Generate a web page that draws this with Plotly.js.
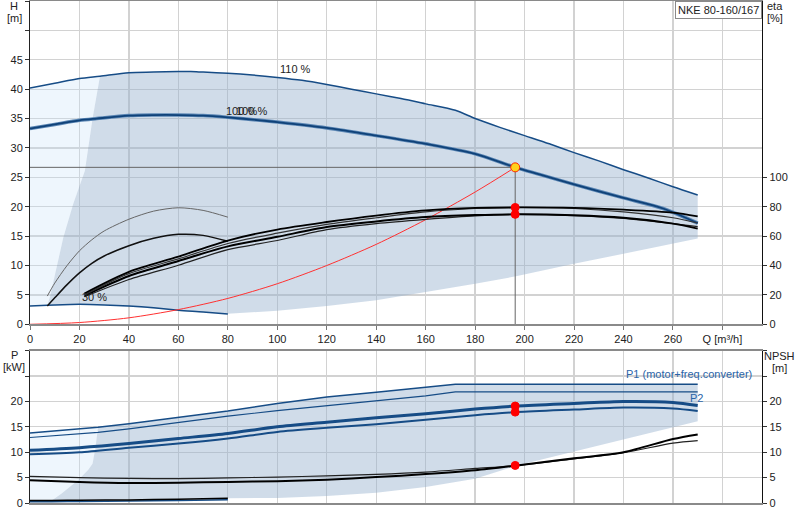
<!DOCTYPE html>
<html>
<head>
<meta charset="utf-8">
<script src="https://cdn.plot.ly/plotly-3.0.1.min.js"></script>
<style>
  html, body { margin: 0; padding: 0; background: #fff; }
  #plot { width: 800px; height: 520px; }
</style>
</head>
<body>
<div id="plot"></div>
<script>
// flow axis
const qTicks = [0, 20, 40, 60, 80, 100, 120, 140, 160, 180, 200, 220, 240, 260, 280];
const qTickText = ['0', '20', '40', '60', '80', '100', '120', '140', '160', '180', '200', '220', '240', '260', 'Q [m³/h]'];
const hTicks = [0, 5, 10, 15, 20, 25, 30, 35, 40, 45, 50, 55];
const hTickText = ['0', '5', '10', '15', '20', '25', '30', '35', '40', '45', '', ''];
const etaTicks = [0, 20, 40, 60, 80, 100];
const pTicks = [0, 5, 10, 15, 20, 25, 30];
const pTickText = ['0', '5', '10', '15', '20', '', ''];

// head curves (top panel)
const q110 = [0, 10, 20, 28.3, 40, 50, 60, 65, 70, 80, 90, 100, 110, 120, 130, 140, 150, 160, 172, 180, 190, 200, 210, 220, 230, 240, 250, 260, 270];
const h110 = [40.2, 41.0, 41.8, 42.2, 42.8, 42.9, 43.0, 43.0, 42.9, 42.7, 42.4, 42.0, 41.5, 40.8, 40.0, 39.2, 38.4, 37.5, 36.4, 35.0, 33.5, 32.1, 30.7, 29.2, 27.8, 26.3, 24.9, 23.4, 22.0];
const q100 = [0, 10, 20, 27, 40, 50, 60, 70, 80, 93, 100, 120, 140, 160, 180, 196.2, 206, 220, 240, 256, 270];
const h100 = [33.3, 34.0, 34.7, 35.0, 35.5, 35.6, 35.6, 35.5, 35.2, 34.7, 34.4, 33.4, 32.1, 30.7, 29.0, 26.7, 25.5, 23.8, 21.5, 19.7, 17.2];
const qMin = [0, 7, 10, 20, 30, 40, 50, 60, 70, 80];
const hMin = [3.1, 3.25, 3.3, 3.4, 3.3, 3.1, 2.8, 2.4, 2.1, 1.75];
const qLowEdge = [80, 100, 120, 140, 160, 180, 197, 220, 240, 260, 270];
const hLowEdge = [1.8, 2.3, 3.1, 4.1, 5.5, 6.9, 8.2, 10.3, 12.0, 13.7, 14.6];
const qLightEdge = [7, 8.1, 10.5, 13.5, 17.5, 22.2, 25.3, 28.3];
const hLightEdge = [3.25, 4.7, 9.2, 14.8, 20.5, 26.1, 35.0, 42.2];
const qSys = [0, 20, 40, 60, 80, 100, 120, 140, 160, 180, 196.2];
const hSys = [0, 0.3, 1.1, 2.5, 4.4, 6.9, 10.0, 13.6, 17.8, 22.5, 26.7];

// efficiency curves (top panel, right axis)
const qEta = [22, 40, 60, 80, 100, 120, 140, 160, 180, 197, 220, 240, 260, 270];
const etaA = [21.0, 35.7, 46.0, 57.0, 64.5, 69.6, 74.0, 77.5, 79.2, 79.5, 79.2, 78.0, 76.0, 73.4];
const etaB = [20.0, 34.5, 44.5, 55.0, 62.0, 68.0, 72.5, 76.5, 78.8, 79.5, 78.8, 76.5, 72.5, 68.9];
const etaC = [19.5, 32.9, 43.1, 53.0, 59.5, 66.2, 70.0, 73.0, 74.3, 74.8, 74.2, 72.5, 68.5, 65.1];
const etaD = [18.7, 30.5, 40.2, 50.8, 57.0, 64.4, 68.5, 71.4, 73.8, 74.8, 74.0, 72.0, 68.5, 66.5];
const qEtaLow = [7, 10, 15, 20, 25, 30, 40, 50, 60, 70, 80];
const etaLow1 = [19.2, 28.0, 40.0, 50.0, 57.5, 63.5, 71.5, 77.0, 79.3, 77.5, 72.9];
const etaLow2 = [12.4, 18.0, 27.0, 35.0, 41.5, 46.5, 53.5, 58.5, 61.2, 60.5, 56.5];

// power curves (bottom panel)
const qPmax = [0, 20, 27.5, 40, 60, 80, 100, 120, 140, 160, 172, 200, 240, 270];
const p1Max = [13.8, 14.5, 14.9, 15.6, 16.8, 18.1, 19.6, 20.9, 21.8, 22.8, 23.4, 23.4, 23.4, 23.4];
const p2Max = [12.9, 13.6, 13.9, 14.6, 15.9, 17.1, 18.2, 19.2, 20.2, 21.1, 21.9, 21.9, 21.9, 21.9];
const qPnom = [0, 20, 40, 60, 80, 100, 120, 140, 160, 180, 197, 220, 240, 260, 270];
const p1Nom = [10.4, 10.9, 11.7, 12.7, 13.7, 15.0, 15.9, 16.8, 17.6, 18.5, 19.1, 19.6, 20.0, 19.8, 19.2];
const p2Nom = [9.6, 10.0, 10.9, 11.7, 12.7, 14.0, 14.8, 15.5, 16.4, 17.3, 17.9, 18.4, 18.8, 18.6, 18.1];
const qPmin = [0, 8.8, 20, 40, 60, 80];
const pMin1 = [0.5, 0.5, 0.55, 0.6, 0.75, 0.95];
const pMin2 = [0.25, 0.27, 0.3, 0.4, 0.5, 0.65];
const qPlowEdge = [80, 100, 120, 140, 160, 180, 197, 220, 240, 260, 270];
const pLowEdge = [0.95, 1.0, 1.4, 2.0, 3.15, 4.8, 7.4, 10.2, 12.6, 14.9, 16.1];
const qPlightEdge = [8.8, 12.8, 19.4, 23.5, 25.3, 26.5, 27.5];
const pLightEdge = [0.5, 1.85, 4.5, 6.5, 7.75, 11.0, 14.9];

// NPSH curves
const qNpsh = [0, 20, 40, 60, 80, 100, 120, 140, 160, 180, 197, 220, 240, 260, 270];
const npshA = [5.25, 5.0, 4.85, 4.8, 4.95, 5.1, 5.35, 5.65, 6.1, 6.8, 7.4, 8.7, 9.9, 11.8, 12.3];
const npshB = [4.5, 4.15, 3.95, 4.0, 4.15, 4.3, 4.6, 5.1, 5.7, 6.45, 7.4, 8.8, 10.0, 12.6, 13.5];

// duty point
const qDuty = 196.2;
const hDuty = 26.7;
const etaDuty = [79.5, 74.8];
const pDuty = [19.1, 17.9];
const npshDuty = 7.4;

const BLUE = '#164c86';
const FONT = 'Liberation Sans, Arial, sans-serif';
const darkFill = 'rgba(150,178,206,0.45)';
const lightFill = 'rgba(200,225,250,0.3)';

function rev(a) { return a.slice().reverse(); }

// top panel shaded areas
let darkQ = [], darkH = [];
qLightEdge.forEach((q, i) => { darkQ.push(q); darkH.push(hLightEdge[i]); });
q110.forEach((q, i) => { if (q > 28.3) { darkQ.push(q); darkH.push(h110[i]); } });
rev(qLowEdge).forEach((q, i) => { darkQ.push(q); darkH.push(rev(hLowEdge)[i]); });
rev(qMin).forEach((q, i) => { if (q > 7 && q < 80) { darkQ.push(q); darkH.push(rev(hMin)[i]); } });
darkQ.push(qLightEdge[0]); darkH.push(hLightEdge[0]);

let lightQ = [], lightH = [];
qMin.forEach((q, i) => { if (q <= 7) { lightQ.push(q); lightH.push(hMin[i]); } });
qLightEdge.forEach((q, i) => { lightQ.push(q); lightH.push(hLightEdge[i]); });
rev(q110).forEach((q, i) => { if (q < 28.3) { lightQ.push(q); lightH.push(rev(h110)[i]); } });
lightQ.push(qMin[0]); lightH.push(hMin[0]);

// bottom panel shaded areas
let pdQ = [], pdP = [];
qPlightEdge.forEach((q, i) => { pdQ.push(q); pdP.push(pLightEdge[i]); });
qPmax.forEach((q, i) => { if (q > 27.5) { pdQ.push(q); pdP.push(p1Max[i]); } });
rev(qPlowEdge).forEach((q, i) => { pdQ.push(q); pdP.push(rev(pLowEdge)[i]); });
rev(qPmin).forEach((q, i) => { if (q > 8.8 && q < 80) { pdQ.push(q); pdP.push(rev(pMin1)[i]); } });
pdQ.push(qPlightEdge[0]); pdP.push(pLightEdge[0]);

let plQ = [], plP = [];
qPmin.forEach((q, i) => { if (q <= 8.8) { plQ.push(q); plP.push(pMin1[i]); } });
qPlightEdge.forEach((q, i) => { plQ.push(q); plP.push(pLightEdge[i]); });
rev(qPmax).forEach((q, i) => { if (q < 27.5) { plQ.push(q); plP.push(rev(p1Max)[i]); } });
plQ.push(qPmin[0]); plP.push(pMin1[0]);

function line(x, y, color, width, xa, ya, straight) {
    return { x: x, y: y, xaxis: xa || 'x', yaxis: ya || 'y', type: 'scatter', mode: 'lines',
             line: { color: color, width: width, shape: straight ? 'linear' : 'spline', smoothing: 0.8 },
             hoverinfo: 'skip' };
}
function area(x, y, color, xa, ya) {
    return { x: x, y: y, xaxis: xa || 'x', yaxis: ya || 'y', type: 'scatter', mode: 'lines',
             fill: 'toself', fillcolor: color, line: { width: 0 }, hoverinfo: 'skip' };
}
function dots(x, y, xa, ya, color, size, outline) {
    return { x: x, y: y, xaxis: xa, yaxis: ya, type: 'scatter', mode: 'markers',
             marker: { color: color, size: size, line: { color: outline || color, width: 1 } }, hoverinfo: 'skip' };
}

let data = [
    area(lightQ, lightH, lightFill),
    area(darkQ, darkH, darkFill),
    area(plQ, plP, lightFill, 'x2', 'y3'),
    area(pdQ, pdP, darkFill, 'x2', 'y3'),

    // head
    line(q110, h110, BLUE, 1.5),
    line(q100, h100, '#5b86b4', 3.5),
    line(q100, h100, '#0f4279', 1.8),
    line(qMin, hMin, BLUE, 1.5),
    line(qSys, hSys, '#ff3030', 1),
    line([0, qDuty], [hDuty, hDuty], '#666666', 1, 'x', 'y', true),
    line([qDuty, qDuty], [hDuty, 0], '#666666', 1, 'x', 'y', true),

    // efficiency
    line(qEtaLow, etaLow1, '#666666', 1, 'x', 'y2'),
    line(qEtaLow, etaLow2, '#111111', 1.5, 'x', 'y2'),
    line(qEta, etaD, '#222222', 1.2, 'x', 'y2'),
    line(qEta, etaC, '#000000', 2, 'x', 'y2'),
    line(qEta, etaB, '#333333', 1.2, 'x', 'y2'),
    line(qEta, etaA, '#000000', 1.8, 'x', 'y2'),

    // power
    line(qPmax, p1Max, BLUE, 1.5, 'x2', 'y3', true),
    line(qPmax, p2Max, BLUE, 1.2, 'x2', 'y3', true),
    line(qPnom, p1Nom, BLUE, 3, 'x2', 'y3'),
    line(qPnom, p2Nom, BLUE, 2, 'x2', 'y3'),
    line(qPmin, pMin2, BLUE, 1.5, 'x2', 'y3'),
    line(qPmin, pMin1, '#000000', 1.5, 'x2', 'y3'),

    // NPSH
    line(qNpsh, npshA, '#222222', 1.2, 'x2', 'y4'),
    line(qNpsh, npshB, '#000000', 2, 'x2', 'y4'),

    // duty point markers
    dots([qDuty, qDuty], etaDuty, 'x', 'y2', '#ff0000', 8),
    dots([qDuty], [hDuty], 'x', 'y', '#ffd21a', 9, '#ff2a00'),
    dots([qDuty, qDuty], pDuty, 'x2', 'y3', '#ff0000', 8),
    dots([qDuty], [npshDuty], 'x2', 'y4', '#ff0000', 8),
];

const tickFont = { family: FONT, size: 11, color: '#222' };
const gridColor = '#d2d2d2';

function textNote(x, y, text, opts) {
    return Object.assign({ x: x, y: y, xref: 'paper', yref: 'paper', text: text, showarrow: false,
        font: { family: FONT, size: 11, color: '#222' }, xanchor: 'center', yanchor: 'middle' }, opts || {});
}
// pixel helpers for the labels outside the plotting area
const px = v => (v - 30) / 732;
const py = v => (503 - v) / 502;

let layout = {
    width: 800,
    height: 520,
    margin: { l: 30, r: 38, t: 1, b: 17 },
    paper_bgcolor: '#fff',
    plot_bgcolor: '#fff',
    showlegend: false,
    xaxis: {
        domain: [0, 1], anchor: 'y', range: [0, 296],
        tickvals: qTicks, ticktext: qTickText, tickfont: tickFont,
        ticks: 'outside', ticklen: 4, tickcolor: '#777',
        showgrid: true, gridcolor: gridColor, gridwidth: 1.3, zeroline: false,
        showline: true, linecolor: '#8a8a8a', linewidth: 2, mirror: true,
    },
    yaxis: {
        domain: [0.356, 1], anchor: 'x', range: [0, 55],
        tickvals: hTicks, ticktext: hTickText, tickfont: tickFont,
        ticks: 'outside', ticklen: 4, tickcolor: '#333',
        showgrid: true, gridcolor: gridColor, gridwidth: 1.3, zeroline: false,
        showline: true, linecolor: '#222', linewidth: 1,
    },
    yaxis2: {
        overlaying: 'y', anchor: 'x', side: 'right', range: [0, 220],
        tickvals: etaTicks, tickfont: tickFont,
        ticks: 'outside', ticklen: 4, tickcolor: '#333',
        showgrid: false, zeroline: false,
        showline: true, linecolor: '#111', linewidth: 1.2,
    },
    xaxis2: {
        domain: [0, 1], anchor: 'y3', range: [0, 296],
        tickvals: qTicks, showticklabels: false, ticks: '',
        showgrid: true, gridcolor: gridColor, gridwidth: 1.3, zeroline: false,
        showline: true, linecolor: '#8a8a8a', linewidth: 1.5, mirror: true,
    },
    yaxis3: {
        domain: [0, 0.3034], anchor: 'x2', range: [0, 30],
        tickvals: pTicks, ticktext: pTickText, tickfont: tickFont,
        ticks: 'outside', ticklen: 4, tickcolor: '#333',
        showgrid: true, gridcolor: gridColor, gridwidth: 1.3, zeroline: false,
        showline: true, linecolor: '#222', linewidth: 1,
    },
    yaxis4: {
        overlaying: 'y3', anchor: 'x2', side: 'right', range: [0, 30],
        tickvals: pTicks, ticktext: pTickText, tickfont: tickFont,
        ticks: 'outside', ticklen: 4, tickcolor: '#333',
        showgrid: false, zeroline: false,
        showline: true, linecolor: '#111', linewidth: 1.2,
    },
    annotations: [
        textNote(px(14), py(6), 'H'),
        textNote(px(14), py(18), '[m]'),
        textNote(px(775), py(6), 'eta'),
        textNote(px(775), py(18), '[%]'),
        textNote(px(14), py(355), 'P'),
        textNote(px(14), py(367), '[kW]'),
        textNote(px(780), py(356), 'NPSH'),
        textNote(px(780), py(368), '[m]'),
        textNote(1, 1, 'NKE 80-160/167', { xanchor: 'right', yanchor: 'top', bordercolor: '#8a8a8a',
            borderwidth: 1, borderpad: 2, bgcolor: '#fff' }),
        textNote(107.5, 43.5, '110 %', { xref: 'x', yref: 'y' }),
        textNote(85.7, 36.3, '100 %', { xref: 'x', yref: 'y' }),
        textNote(89.5, 36.3, '100 %', { xref: 'x', yref: 'y' }),
        textNote(26.1, 4.7, '30 %', { xref: 'x', yref: 'y' }),
        textNote(292.8, 25.4, 'P1 (motor+freq.converter)', { xref: 'x2', yref: 'y3', xanchor: 'right',
            font: { family: FONT, size: 11, color: '#2a64a8' } }),
        textNote(269.5, 20.7, 'P2', { xref: 'x2', yref: 'y3',
            font: { family: FONT, size: 11, color: '#2a64a8' } }),
    ],
};

Plotly.newPlot('plot', data, layout, { displayModeBar: false, staticPlot: true });
</script>
</body>
</html>
